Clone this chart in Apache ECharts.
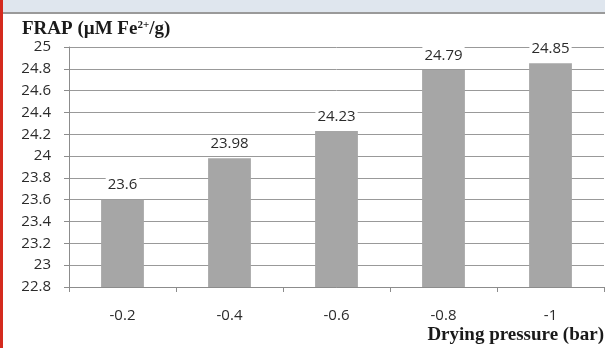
<!DOCTYPE html>
<html>
<head>
<meta charset="utf-8">
<script src="https://cdn.jsdelivr.net/npm/echarts@6/dist/echarts.min.js"></script>
<style>
  html, body { margin: 0; padding: 0; background: #fff; }
  #chart { width: 605px; height: 348px; }
</style>
</head>
<body>
<div id="chart"></div>
<script>
// Drying pressure levels (bar) and measured FRAP values
const pressures = ['-0.2', '-0.4', '-0.6', '-0.8', '-1'];
const frapValues = [23.6, 23.98, 24.23, 24.79, 24.85];
const yTicks = { min: 22.8, max: 25, step: 0.2 };

const labelFont = "'Open Sans', 'Liberation Sans', sans-serif";
const serifFont = "'Liberation Serif', 'DejaVu Serif', serif";
const textColor = '#2b2b2b';

const chart = echarts.init(document.getElementById('chart'), null, { renderer: 'canvas' });

chart.setOption({
  animation: false,
  backgroundColor: '#ffffff',
  grid: { left: 69, right: 1, top: 47, bottom: 61 },
  xAxis: {
    type: 'category',
    data: pressures,
    boundaryGap: true,
    axisLine: { lineStyle: { color: '#8c8c8c', width: 1 } },
    axisTick: { show: true, length: 5, lineStyle: { color: '#8c8c8c' } },
    axisLabel: { color: textColor, fontFamily: labelFont, fontSize: 15, margin: 21 }
  },
  yAxis: {
    type: 'value',
    min: yTicks.min,
    max: yTicks.max,
    interval: yTicks.step,
    axisLine: { show: true, lineStyle: { color: '#8c8c8c', width: 1 } },
    axisTick: { show: true, length: 5, lineStyle: { color: '#8c8c8c' } },
    axisLabel: {
      color: textColor,
      fontFamily: labelFont,
      fontSize: 15,
      margin: 18,
      formatter: v => String(parseFloat(v.toFixed(1)))
    },
    splitLine: { show: true, lineStyle: { color: '#999999', width: 1 } }
  },
  series: [{
    type: 'bar',
    data: frapValues,
    barWidth: '40%',
    itemStyle: { color: '#a6a6a6' },
    label: {
      show: true,
      position: 'top',
      distance: 6,
      color: textColor,
      fontFamily: labelFont,
      fontSize: 15,
      backgroundColor: '#ffffff',
      padding: [1, 2]
    }
  }],
  graphic: [
    // header strip and left accent
    { type: 'rect', left: 0, top: 0, shape: { width: 605, height: 12 }, style: { fill: '#dfe6ee' }, z: 10 },
    { type: 'rect', left: 0, top: 12, shape: { width: 605, height: 2 }, style: { fill: '#9a9a9a' }, z: 10 },
    { type: 'rect', left: 0, top: 0, shape: { width: 3, height: 348 }, style: { fill: '#d42a1e' }, z: 11 },
    // axis titles
    {
      type: 'text', left: 22, top: 20, z: 12,
      style: {
        text: 'FRAP (µM Fe{sup|2+}/g)',
        rich: { sup: { fontSize: 11, fontWeight: 'bold', fontFamily: serifFont, fill: '#1a1a1a', padding: [0, 0, 8, 0] } },
        font: 'bold 19px ' + serifFont,
        fill: '#1a1a1a'
      }
    },
    {
      type: 'text', right: 1, top: 326, z: 12,
      style: {
        text: 'Drying pressure (bar)',
        font: 'bold 19px ' + serifFont,
        fill: '#1a1a1a'
      }
    }
  ]
});
</script>
</body>
</html>
